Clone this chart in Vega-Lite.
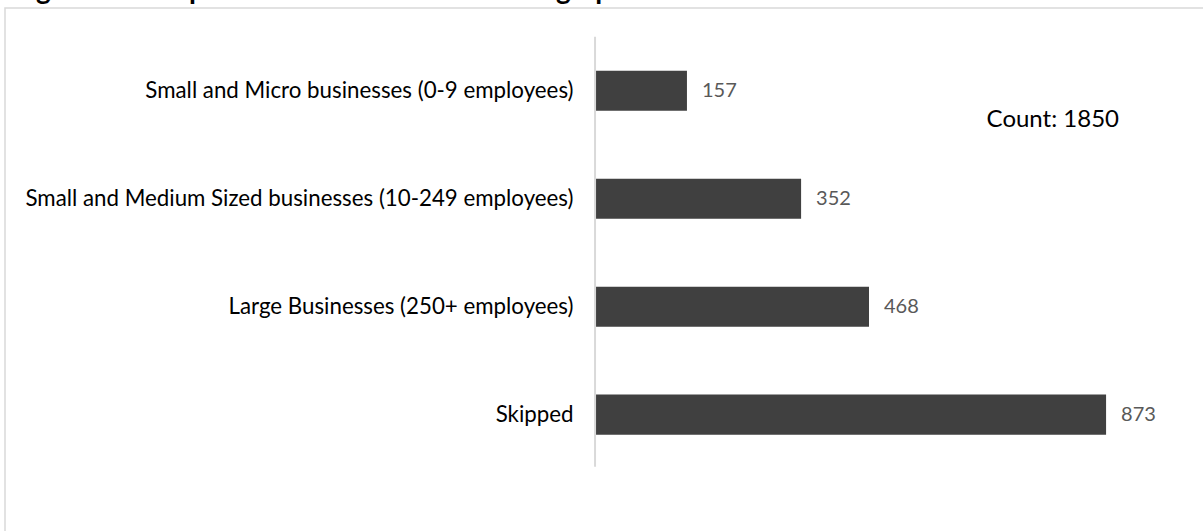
{
  "$schema": "https://vega.github.io/schema/vega-lite/v6.json",
  "autosize": {"type": "none"},
  "width": 1200,
  "height": 525,
  "padding": {"left": 5, "top": 8, "right": -2, "bottom": -2},
  "background": "white",
  "config": {
    "view": {"stroke": "#d9d9d9", "strokeWidth": 1.5},
    "font": "Lato"
  },
  "title": {
    "text": "Figure 10: Respondents' business size demographic",
    "anchor": "start",
    "frame": "group",
    "orient": "top",
    "fontSize": 28,
    "fontWeight": "bold",
    "font": "Lato",
    "color": "#000000",
    "baseline": "alphabetic",
    "offset": 0,
    "dx": 8,
    "dy": 19
  },
  "layer": [
    {
      "data": {"name": "bars", "values": [
        {"category": "Small and Micro businesses (0-9 employees)", "count": 157},
        {"category": "Small and Medium Sized businesses (10-249 employees)", "count": 352},
        {"category": "Large Businesses (250+ employees)", "count": 468},
        {"category": "Skipped", "count": 873}
      ]},
      "layer": [
        {
          "mark": {"type": "bar", "color": "#404040"}
        },
        {
          "mark": {"type": "text", "align": "left", "baseline": "middle", "dx": 15, "fontSize": 20, "color": "#595959", "font": "Lato"},
          "encoding": {"text": {"field": "count", "type": "quantitative"}}
        }
      ],
      "encoding": {
        "y": {
          "field": "category",
          "type": "nominal",
          "sort": null,
          "scale": {"paddingInner": 0.6296, "paddingOuter": 0.7454, "align": 0.389, "round": false},
          "axis": {
            "title": null,
            "orient": "left",
            "offset": -590,
            "domain": false,
            "ticks": false,
            "labelPadding": 22,
            "labelFontSize": 22.3,
            "labelFont": "Lato",
            "labelColor": "#000000",
            "labelLimit": 0
          }
        },
        "x": {
          "field": "count",
          "type": "quantitative",
          "scale": {"domain": [-1008, 1042], "nice": false, "zero": false},
          "axis": null
        }
      }
    },
    {
      "data": {"values": [{"axis": "y"}]},
      "mark": {"type": "rule", "color": "#d9d9d9", "strokeWidth": 2, "yOffset": -54, "y2Offset": 52},
      "encoding": {
        "x": {"datum": 0, "type": "quantitative"},
        "y": {"datum": "Small and Micro businesses (0-9 employees)", "type": "nominal"},
        "y2": {"datum": "Skipped"}
      }
    },
    {
      "data": {"values": [{"note": "Count: 1850"}]},
      "mark": {"type": "text", "align": "center", "baseline": "middle", "fontSize": 24, "fontWeight": "normal", "color": "#000000", "font": "Lato", "yOffset": 29},
      "encoding": {
        "x": {"datum": 782, "type": "quantitative"},
        "y": {"datum": "Small and Micro businesses (0-9 employees)", "type": "nominal"},
        "text": {"field": "note", "type": "nominal"}
      }
    }
  ]
}
